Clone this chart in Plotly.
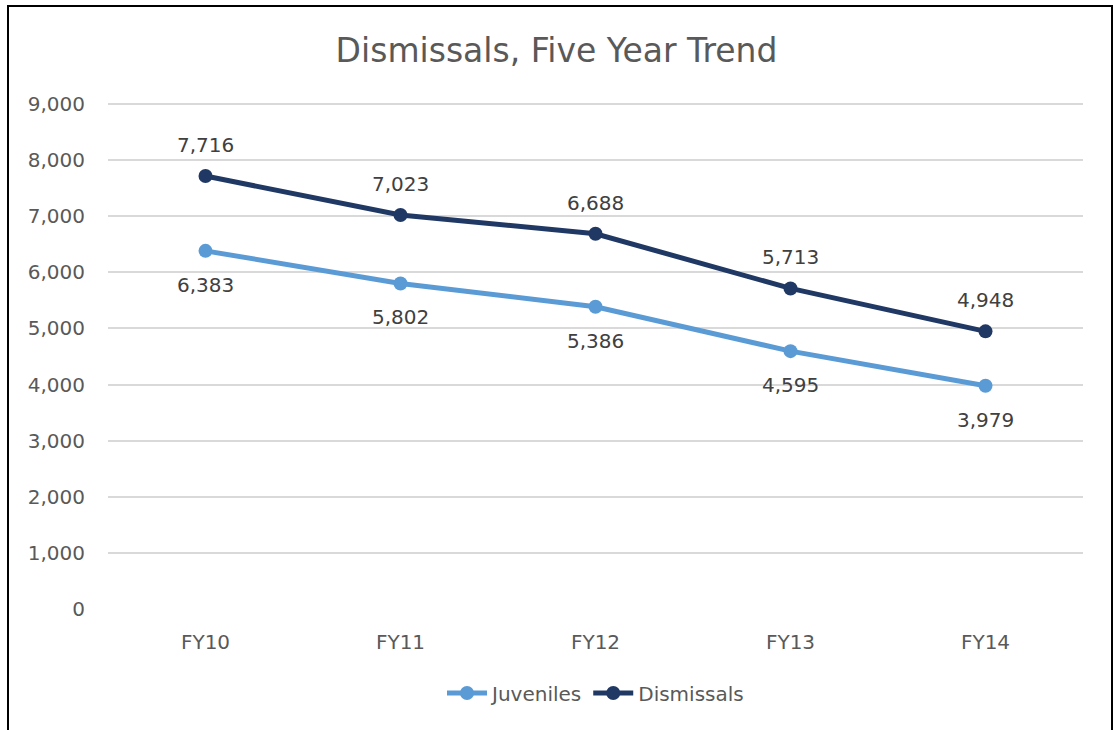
import plotly.graph_objects as go

categories = ["FY10", "FY11", "FY12", "FY13", "FY14"]
juveniles = [6383, 5802, 5386, 4595, 3979]
dismissals = [7716, 7023, 6688, 5713, 4948]
y_ticks = [0, 1000, 2000, 3000, 4000, 5000, 6000, 7000, 8000, 9000]

FONT = "DejaVu Sans"
GRAY = "#595959"
C_JUV = "#5B9BD5"
C_DIS = "#203864"

W, H = 1113, 730
L, T, PW, PH = 108, 103, 975, 506

fig = go.Figure()
fig.add_trace(go.Scatter(
    x=categories, y=juveniles, name="Juveniles", mode="lines+markers",
    line=dict(color=C_JUV, width=5), marker=dict(size=14, color=C_JUV),
))
fig.add_trace(go.Scatter(
    x=categories, y=dismissals, name="Dismissals", mode="lines+markers",
    line=dict(color=C_DIS, width=5), marker=dict(size=14, color=C_DIS),
))

annotations = []
for c, v in zip(categories, dismissals):
    annotations.append(dict(x=c, y=v, text=f"{v:,}", showarrow=False, yshift=31,
                            font=dict(family=FONT, size=20, color="#404040")))
for c, v in zip(categories, juveniles):
    annotations.append(dict(x=c, y=v, text=f"{v:,}", showarrow=False, yshift=-34,
                            font=dict(family=FONT, size=20, color="#404040")))

fig.update_layout(
    width=W, height=H,
    margin=dict(l=L, r=W - L - PW, t=T, b=H - T - PH),
    paper_bgcolor="white", plot_bgcolor="white",
    title=dict(text="Dismissals, Five Year Trend", x=0.5, xanchor="center",
               y=1 - 50 / H, yanchor="middle",
               font=dict(family=FONT, size=33, color=GRAY)),
    font=dict(family=FONT, color=GRAY),
    showlegend=True,
    legend=dict(orientation="h", x=0.5, xanchor="center",
                y=-(693 - (T + PH)) / PH, yanchor="middle",
                font=dict(family=FONT, size=20, color=GRAY), itemwidth=40),
    annotations=annotations,
    shapes=[dict(type="rect", xref="paper", yref="paper",
                 x0=(8 - L) / PW, x1=(1112 - L) / PW,
                 y0=-0.4, y1=1 + (T - 6) / PH,
                 line=dict(color="black", width=2), fillcolor="rgba(0,0,0,0)", layer="below")],
)
fig.update_xaxes(range=[-0.5, 4.5], showgrid=False, showline=False, zeroline=False,
                 tickfont=dict(family=FONT, size=20, color=GRAY), ticks="",
                 ticklabelstandoff=19)
fig.update_yaxes(range=[0, 9018], tickvals=y_ticks, tickformat=",d",
                 showgrid=True, gridcolor="#D9D9D9", gridwidth=1.5,
                 zeroline=False, showline=False,
                 tickfont=dict(family=FONT, size=20, color=GRAY), ticks="",
                 ticklabelstandoff=22)

fig.write_html("out.html", config={"displayModeBar": False},
               post_script="document.body.style.margin='0';document.body.style.overflow='hidden';")
